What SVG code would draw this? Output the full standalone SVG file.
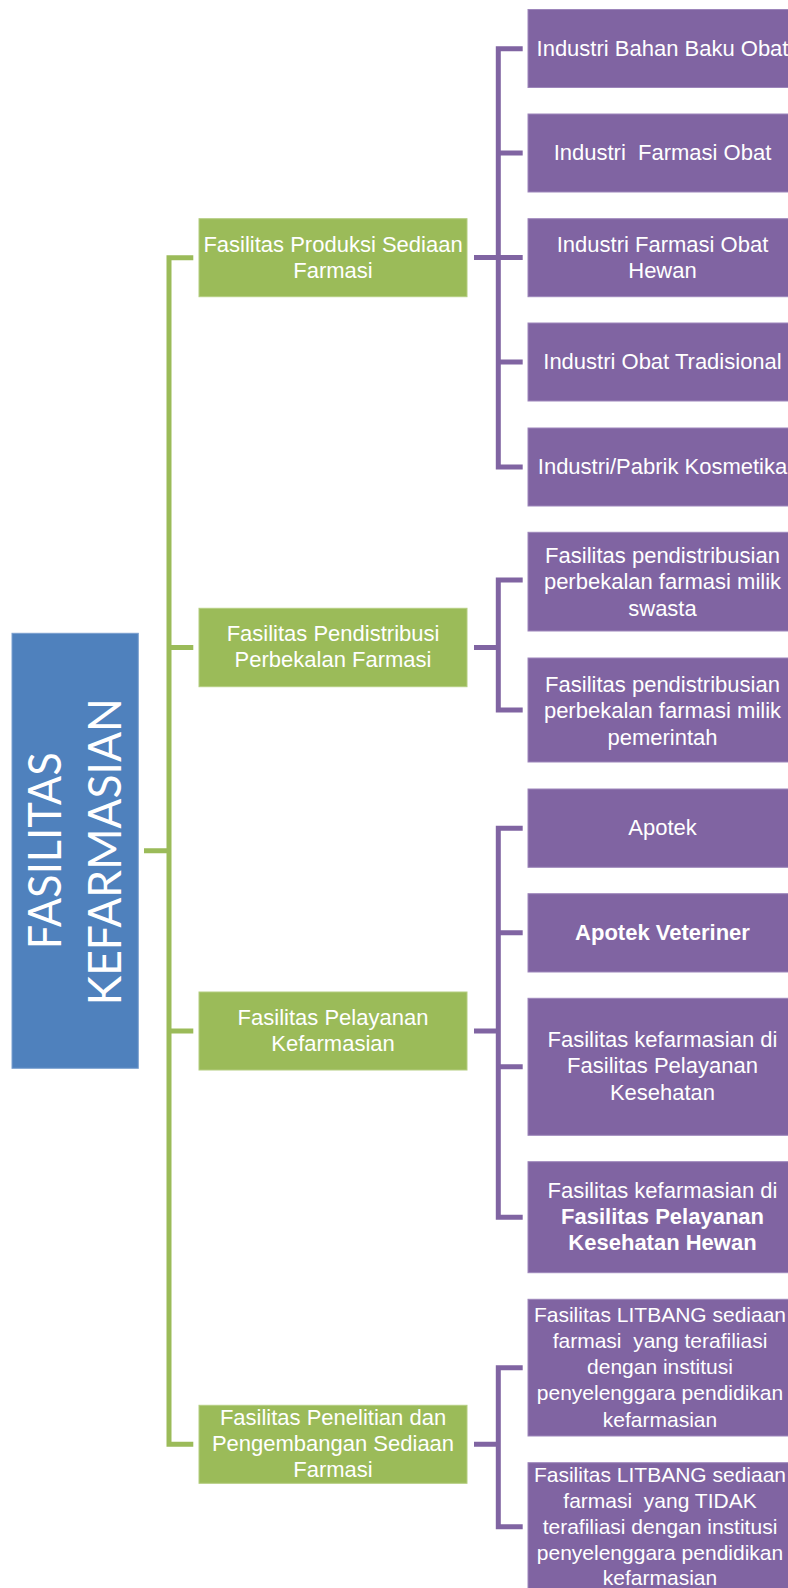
<svg xmlns="http://www.w3.org/2000/svg" width="788" height="1588" viewBox="0 0 788 1588">
<style>
.p{fill:#8064A2;stroke:#9d86bb;stroke-width:1}
.g{fill:#9BBB59;stroke:#b4cd80;stroke-width:1}
.r{fill:#4F81BD;stroke:#7a9fcf;stroke-width:1}
text{font-family:"Liberation Sans",Arial,sans-serif;font-size:22px;fill:#fff;text-anchor:middle;white-space:pre}
.b{font-weight:bold}
.s{font-size:21px}
.root{font-family:Lato,"Liberation Sans",sans-serif;font-size:47px;font-weight:400}
.cg{fill:none;stroke:#9BBB59;stroke-width:5}
.cp{fill:none;stroke:#8064A2;stroke-width:5}
</style>
<rect width="788" height="1588" fill="#fff"/>
<g id="connectors">
<path class="cg" d="M193.3 257.8H169V1444.3H193.3M169 647.5H193.3M169 1031H193.3M144 850.8H169"/>
<path class="cp" d="M522.7 48.7H498.3V467H522.7M498.3 153H522.7M498.3 257.5H522.7M498.3 362H522.7M474 257.5H498.3"/>
<path class="cp" d="M522.7 580H498.3V710H522.7M474 647.5H498.3"/>
<path class="cp" d="M522.7 828.3H498.3V1217.3H522.7M498.3 932.7H522.7M498.3 1066.7H522.7M474 1031H498.3"/>
<path class="cp" d="M522.7 1367.7H498.3V1526.7H522.7M474 1444.3H498.3"/>
</g>
<g id="root">
<rect class="r" x="12" y="633.3" width="126.3" height="435"/>
<text class="root" transform="translate(61,850.8) rotate(-90)" textLength="197" lengthAdjust="spacingAndGlyphs">FASILITAS</text>
<text class="root" transform="translate(120.7,851.7) rotate(-90)" textLength="307" lengthAdjust="spacingAndGlyphs">KEFARMASIAN</text>
</g>
<g id="g1"><rect class="g" x="199" y="218.7" width="268" height="78"/><text x="333" y="251.7">Fasilitas Produksi Sediaan</text><text x="333" y="277.7">Farmasi</text></g>
<g id="g2"><rect class="g" x="199" y="608.3" width="268" height="78.4"/><text x="333" y="640.5">Fasilitas Pendistribusi</text><text x="333" y="666.7">Perbekalan Farmasi</text></g>
<g id="g3"><rect class="g" x="199" y="992" width="268" height="78"/><text x="333" y="1025">Fasilitas Pelayanan</text><text x="333" y="1051">Kefarmasian</text></g>
<g id="g4"><rect class="g" x="199" y="1405.3" width="268" height="78"/><text x="333" y="1425">Fasilitas Penelitian dan</text><text x="333" y="1450.7">Pengembangan Sediaan</text><text x="333" y="1476.7">Farmasi</text></g>
<g id="p1"><rect class="p" x="528" y="9.5" width="270" height="78"/><text x="662.5" y="55.5">Industri Bahan Baku Obat</text></g>
<g id="p2"><rect class="p" x="528" y="114" width="270" height="78"/><text x="662.5" y="160">Industri  Farmasi Obat</text></g>
<g id="p3"><rect class="p" x="528" y="218.7" width="270" height="78"/><text x="662.5" y="251.7">Industri Farmasi Obat</text><text x="662.5" y="277.7">Hewan</text></g>
<g id="p4"><rect class="p" x="528" y="323" width="270" height="78"/><text x="662.5" y="369">Industri Obat Tradisional</text></g>
<g id="p5"><rect class="p" x="528" y="428" width="270" height="78"/><text x="662.5" y="474">Industri/Pabrik Kosmetika</text></g>
<g id="p6"><rect class="p" x="528" y="532.3" width="270" height="98.7"/><text x="662.5" y="562.5">Fasilitas pendistribusian</text><text x="662.5" y="589">perbekalan farmasi milik</text><text x="662.5" y="615.5">swasta</text></g>
<g id="p7"><rect class="p" x="528" y="658" width="270" height="104"/><text x="662.5" y="692">Fasilitas pendistribusian</text><text x="662.5" y="718.3">perbekalan farmasi milik</text><text x="662.5" y="744.6">pemerintah</text></g>
<g id="p8"><rect class="p" x="528" y="789" width="270" height="78.3"/><text x="662.5" y="835">Apotek</text></g>
<g id="p9"><rect class="p" x="528" y="893.7" width="270" height="78.3"/><text class="b" x="662.5" y="940">Apotek Veteriner</text></g>
<g id="p10"><rect class="p" x="528" y="998.3" width="270" height="137"/><text x="662.5" y="1046.7">Fasilitas kefarmasian di</text><text x="662.5" y="1073.3">Fasilitas Pelayanan</text><text x="662.5" y="1100">Kesehatan</text></g>
<g id="p11"><rect class="p" x="528" y="1161.7" width="270" height="111"/><text x="662.5" y="1197.7">Fasilitas kefarmasian di</text><text class="b" x="662.5" y="1224.3">Fasilitas Pelayanan</text><text class="b" x="662.5" y="1250.3">Kesehatan Hewan</text></g>
<g id="p12"><rect class="p" x="528" y="1299.3" width="270" height="136.7"/><text class="s" x="660" y="1321.7">Fasilitas LITBANG sediaan</text><text class="s" x="660" y="1348">farmasi  yang terafiliasi</text><text class="s" x="660" y="1374">dengan institusi</text><text class="s" x="660" y="1400">penyelenggara pendidikan</text><text class="s" x="660" y="1426.5">kefarmasian</text></g>
<g id="p13"><rect class="p" x="528" y="1462.7" width="270" height="137"/><text class="s" x="660" y="1481.7">Fasilitas LITBANG sediaan</text><text class="s" x="660" y="1507.7">farmasi  yang TIDAK</text><text class="s" x="660" y="1533.5">terafiliasi dengan institusi</text><text class="s" x="660" y="1560">penyelenggara pendidikan</text><text class="s" x="660" y="1585">kefarmasian</text></g>
</svg>
